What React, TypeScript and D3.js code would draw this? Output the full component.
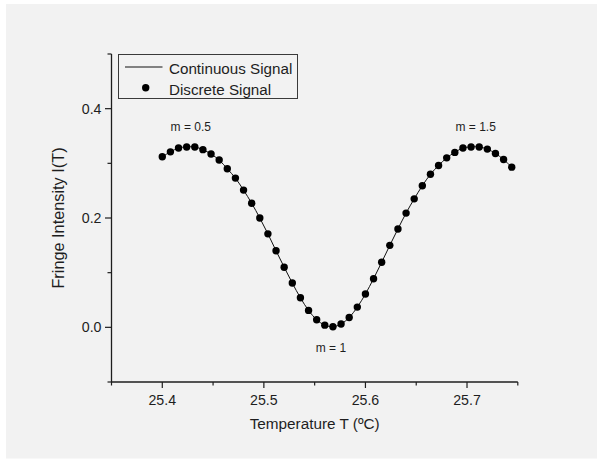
import React from "react";
import * as d3 from "d3";

// Sampled temperature (°C) and fringe intensity I(T)
const temperature = [
  25.400, 25.408, 25.416, 25.424, 25.432, 25.440, 25.448, 25.456, 25.464, 25.472,
  25.480, 25.488, 25.496, 25.504, 25.512, 25.520, 25.528, 25.536, 25.544, 25.552,
  25.560, 25.568, 25.576, 25.584, 25.592, 25.600, 25.608, 25.616, 25.624, 25.632,
  25.640, 25.648, 25.656, 25.664, 25.672, 25.680, 25.688, 25.696, 25.704, 25.712,
  25.720, 25.728, 25.736, 25.744,
];
const intensity = [
  0.312, 0.321, 0.328, 0.330, 0.330, 0.325, 0.317, 0.306, 0.290, 0.273,
  0.251, 0.227, 0.200, 0.171, 0.140, 0.110, 0.081, 0.054, 0.031, 0.014,
  0.004, 0.001, 0.006, 0.018, 0.037, 0.061, 0.089, 0.119, 0.150, 0.180,
  0.209, 0.235, 0.259, 0.280, 0.296, 0.310, 0.320, 0.328, 0.330, 0.330,
  0.326, 0.318, 0.307, 0.293,
];

const xMajorTicks = [25.4, 25.5, 25.6, 25.7];
const xMinorTicks = [25.35, 25.45, 25.55, 25.65, 25.75];
const yMajorTicks = [0.0, 0.2, 0.4];
const yMinorTicks = [-0.1, 0.1, 0.3, 0.5];

// Fringe order annotations: [temperature, intensity anchor, label]
const orderLabels = [
  { t: 25.428, v: 0.36, text: "m = 0.5" },
  { t: 25.7085, v: 0.36, text: "m = 1.5" },
  { t: 25.566, v: -0.045, text: "m = 1" },
];

const legendItems = ["Continuous Signal", "Discrete Signal"];

const FONT = "'Liberation Sans', Arial, sans-serif";
const INK = "#1e1e1e";

export default function App() {
  const W = 597;
  const H = 459;

  const x = d3.scaleLinear().domain([25.35, 25.75]).range([111.5, 517.8]);
  const y = d3.scaleLinear().domain([-0.1, 0.5]).range([382, 54]);

  const pts: [number, number][] = temperature.map((t, i) => [t, intensity[i]]);
  const line = d3
    .line<[number, number]>()
    .x((d) => x(d[0]))
    .y((d) => y(d[1]))
    .curve(d3.curveCatmullRom.alpha(0.5));

  const fmt = d3.format(".1f");
  const x0 = x.range()[0];
  const yBase = y.range()[0];

  return (
    <svg
      width={W}
      height={H}
      style={{ position: "fixed", left: 0, top: 0, display: "block" }}
      fontFamily={FONT}
    >
      <rect x={0} y={0} width={W} height={H} fill="#ffffff" />
      <rect x={6} y={4} width={W - 6} height={454.5} fill="#f2f2f2" />

      {/* connecting curve */}
      <path d={line(pts) ?? ""} fill="none" stroke="#111" strokeWidth={1} />

      {/* sampled points */}
      {pts.map((d, i) => (
        <circle key={i} cx={x(d[0])} cy={y(d[1])} r={3.7} fill="#000" />
      ))}

      {/* axes */}
      <line x1={x0} x2={x0} y1={y.range()[1]} y2={yBase} stroke={INK} strokeWidth={1.3} />
      <line x1={x0} x2={x.range()[1]} y1={yBase} y2={yBase} stroke={INK} strokeWidth={1.3} />

      {xMajorTicks.map((t) => (
        <g key={"xm" + t}>
          <line x1={x(t)} x2={x(t)} y1={yBase} y2={yBase + 6} stroke={INK} strokeWidth={1.2} />
          <text x={x(t)} y={yBase + 23} textAnchor="middle" fontSize={14.2} fill={INK}>
            {fmt(t)}
          </text>
        </g>
      ))}
      {xMinorTicks.map((t) => (
        <line key={"xn" + t} x1={x(t)} x2={x(t)} y1={yBase} y2={yBase + 3.5} stroke={INK} strokeWidth={1.2} />
      ))}

      {yMajorTicks.map((v) => (
        <g key={"ym" + v}>
          <line x1={x0} x2={x0 - 6.5} y1={y(v)} y2={y(v)} stroke={INK} strokeWidth={1.2} />
          <text x={x0 - 10} y={y(v) + 5} textAnchor="end" fontSize={14.2} fill={INK}>
            {fmt(v)}
          </text>
        </g>
      ))}
      {yMinorTicks.map((v) => (
        <line key={"yn" + v} x1={x0} x2={x0 - 4} y1={y(v)} y2={y(v)} stroke={INK} strokeWidth={1.2} />
      ))}

      {/* axis titles */}
      <text x={(x0 + x.range()[1]) / 2} y={429} textAnchor="middle" fontSize={15.3} fill={INK}>
        Temperature T (ºC)
      </text>
      <text
        transform={`translate(64,${(y.range()[0] + y.range()[1]) / 2}) rotate(-90)`}
        textAnchor="middle"
        fontSize={16.3}
        fill={INK}
      >
        Fringe Intensity I(T)
      </text>

      {/* fringe order labels */}
      {orderLabels.map((o) => (
        <text key={o.text} x={x(o.t)} y={y(o.v)} textAnchor="middle" fontSize={12} fill={INK}>
          {o.text}
        </text>
      ))}

      {/* legend */}
      <rect x={118.5} y={54.5} width={179} height={44} fill="none" stroke="#3a3a3a" strokeWidth={1} />
      <line x1={125} x2={162.5} y1={67} y2={67} stroke="#111" strokeWidth={1} />
      <circle cx={145.7} cy={87.7} r={3.7} fill="#000" />
      {legendItems.map((label, i) => (
        <text key={label} x={169} y={74 + i * 20.7} fontSize={15.2} fill={INK}>
          {label}
        </text>
      ))}
    </svg>
  );
}
